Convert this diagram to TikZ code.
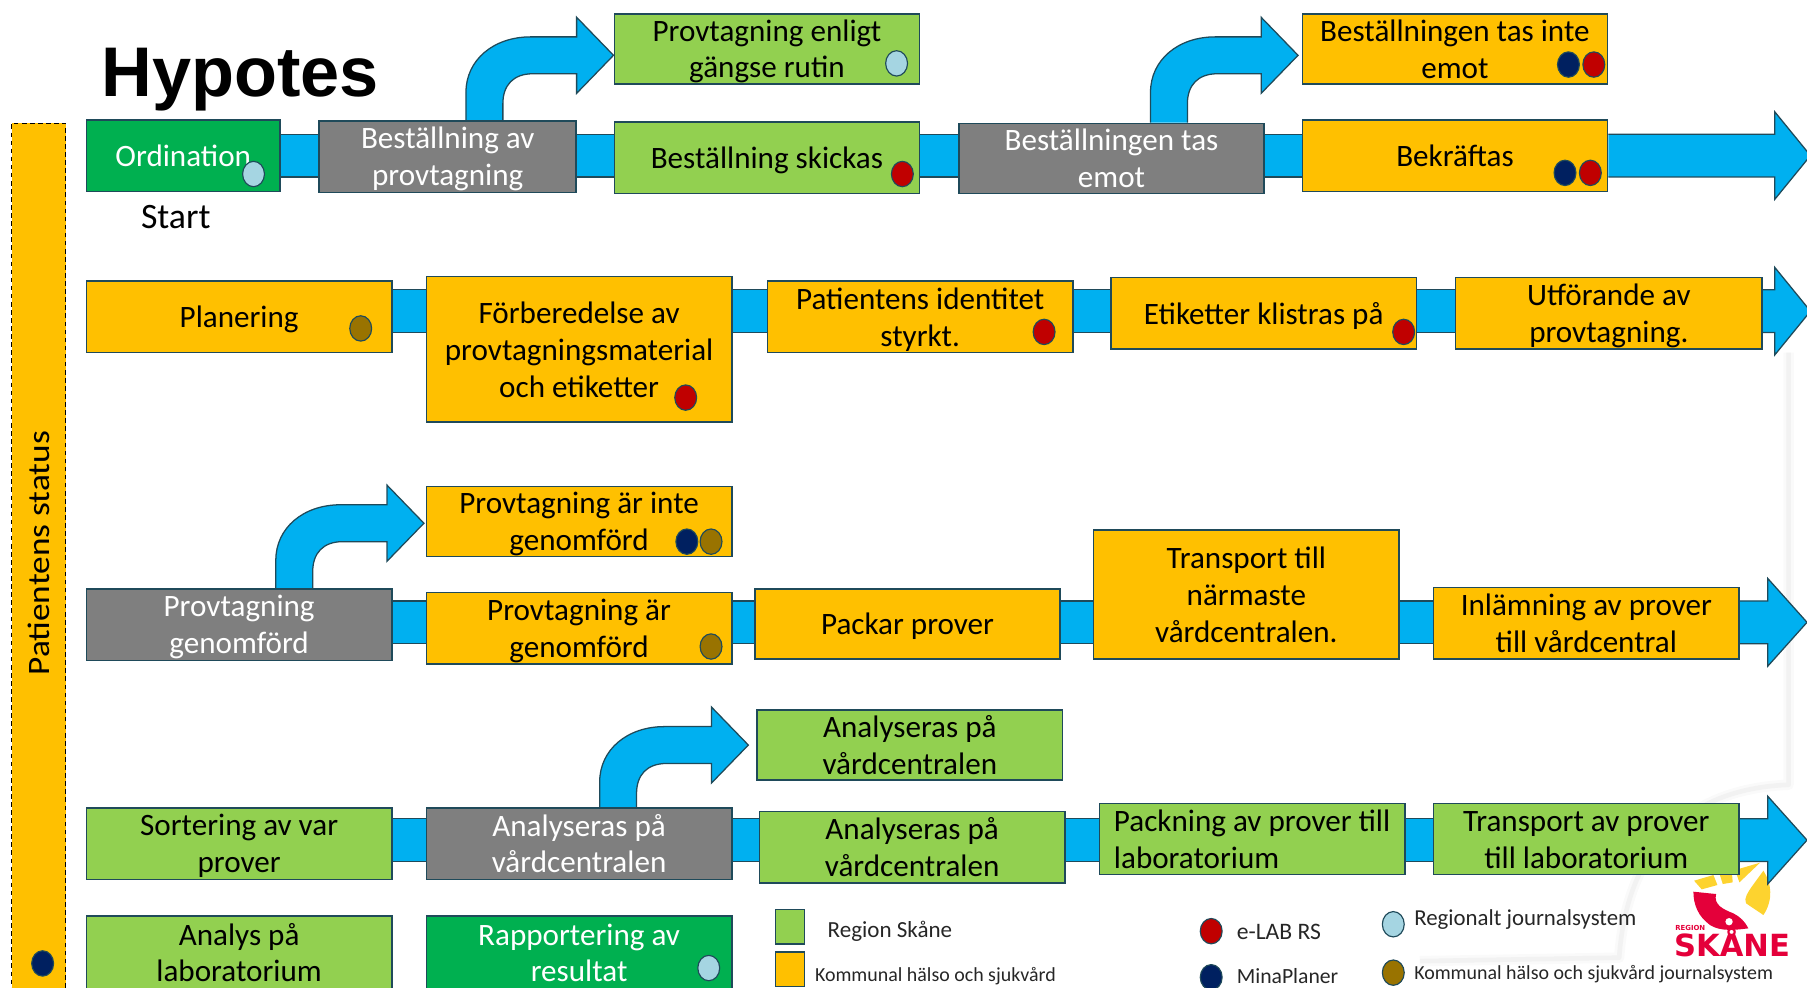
\documentclass[tikz,border=0pt]{standalone}
\usepackage{fontspec}
\setmainfont{Carlito}
\newfontfamily\logofont{DejaVu Sans}
\newfontfamily\titlefont{Liberation Sans}
\usetikzlibrary{calc,backgrounds,shapes.geometric}
\definecolor{sky}{HTML}{00B0F0}
\definecolor{orangebox}{HTML}{FFC000}
\definecolor{greenbox}{HTML}{92D050}
\definecolor{dkgreen}{HTML}{00B050}
\definecolor{graybox}{HTML}{7F7F7F}
\definecolor{edgec}{HTML}{1F4A5A}
\definecolor{redd}{HTML}{C00000}
\definecolor{navyd}{HTML}{002060}
\definecolor{olived}{HTML}{997300}
\definecolor{lightd}{HTML}{A5D5E2}
\definecolor{logored}{HTML}{E4003A}
\definecolor{logoyel}{HTML}{FDD32F}
\tikzset{
  box/.style={draw=edgec,line width=1.3pt,inner sep=0pt,align=center,
    font=\fontsize{27}{32}\selectfont},
  org/.style={box,fill=orangebox,text=black},
  grn/.style={box,fill=greenbox,text=black},
  dgr/.style={box,fill=dkgreen,text=white},
  gry/.style={box,fill=graybox,text=white},
  dotn/.style={ellipse,draw=edgec,line width=1pt,minimum width=19pt,minimum height=22pt,inner sep=0pt},
  band/.style={draw=edgec,line width=1.1pt,double=sky,double distance=36pt},
  blockline/.style={draw=edgec,line width=1.1pt,fill=sky,line join=miter},
  legtext/.style={anchor=west,inner sep=0pt,text=black!85},
  legbox/.style={draw=edgec,line width=1.3pt,inner sep=0pt},
  shadowline/.style={draw=black!5,line width=4pt,line join=round},
  shadowwide/.style={draw=black!2,line width=9pt,line join=round}
}
% name, style, x1, y1, x2, y2, text
\newcommand{\bx}[7]{%
  \pgfmathsetmacro{\bxw}{#5-#3}\pgfmathsetmacro{\bxh}{#6-#4}%
  \pgfmathsetmacro{\bxx}{(#5+#3)/2}\pgfmathsetmacro{\bxy}{(#6+#4)/2}%
  \node[#2,minimum width=\bxw pt,minimum height=\bxh pt] (#1) at (\bxx,\bxy) {\rule{0pt}{23pt}#7\rule[-4pt]{0pt}{4pt}};}
\newcommand{\dt}[4]{\node[dotn,fill=#2] (#1) at (#3,#4) {};}
% from node, to node, x offset, tip shift down, tip shift right
\newcommand{\bentarrow}[5]{%
  \draw[blockline] let \p1=([xshift=#3pt]#1.north west), \p2=([yshift=-#4pt,xshift=#5pt]#2.west) in
    (\x1,\y1) -- (\x1,\y2-32pt)
    .. controls (\x1,\y2-4pt) and (\x1+24pt,\y2+16pt) .. (\x1+56pt,\y2+16pt)
    -- (\x2-32pt,\y2+16pt) -- (\x2-32pt,\y2+33pt) -- (\x2,\y2)
    -- (\x2-32pt,\y2-33pt) -- (\x2-32pt,\y2-16pt) -- (\x1+58pt,\y2-16pt)
    .. controls (\x1+41pt,\y2-16pt) and (\x1+32pt,\y2-26pt) .. (\x1+32pt,\y2-42pt)
    -- (\x1+32pt,\y1);}
% from node, head-base coordinate, tip coordinate
\newcommand{\tailarrow}[3]{%
  \draw[blockline] ($(#1.east |- #2)+(0,-18.5)$) -- ($(#2)+(0,-18.5)$) -- ($(#2)+(0,-38)$)
    -- (#3) -- ($(#2)+(0,38)$) -- ($(#2)+(0,18.5)$) -- ($(#1.east |- #2)+(0,18.5)$);}
\newcommand{\lk}[3]{\draw[band] (#1.east |- #3) -- (#2.west |- #3);}
\begin{document}
\begin{tikzpicture}[x=1pt,y=-1pt]
\useasboundingbox (0,0) rectangle (1568,856.5);
\clip (0,0) rectangle (1568,856.5);
\node[anchor=west,inner sep=0pt,font=\titlefont\bfseries\fontsize{61}{61}\selectfont] (title) at (88,69) {Hypotes};
% left bar
\node[draw=black,dash pattern=on 4pt off 3pt,line width=1pt,fill=orangebox,minimum width=47pt,minimum height=752pt,inner sep=0pt] (bar) at (33.5,483) {};
\node[rotate=90,inner sep=0pt,font=\fontsize{27}{32}\selectfont] (status) at (34,480) {\scalebox{1.135}[1]{Patientens status}};
\dt{dbar}{navyd}{37}{836}
% row 1
\bx{ordi}{dgr}{75}{104}{243}{166}{Ordination}
\bx{best}{gry}{277}{105}{500}{167}{Beställning av\\provtagning}
\bx{enl}{grn}{533}{12}{798}{73}{Provtagning enligt\\gängse rutin}
\bx{skick}{grn}{533}{106}{798}{168}{Beställning skickas}
\bx{emot}{gry}{832}{107}{1097}{168}{Beställningen tas\\emot}
\bx{inte}{org}{1130}{12}{1395}{73}{Beställningen tas inte\\emot}
\bx{bekr}{org}{1130}{104}{1395}{166}{Bekräftas}
\node[inner sep=0pt,font=\fontsize{31}{32}\selectfont] (start) at (152.5,188) {Start};
% row 2
\bx{plan}{org}{75}{244}{340}{306}{Planering}
\bx{forb}{org}{370}{240}{635}{366}{Förberedelse av\\provtagningsmaterial\\och etiketter}
\bx{ident}{org}{666}{244}{931}{306}{Patientens identitet\\styrkt.}
\bx{etik}{org}{964}{241}{1229}{303}{Etiketter klistras på}
\bx{utfor}{org}{1263}{241}{1529}{303}{Utförande av\\provtagning.}
% row 3
\bx{ejgen}{org}{370}{422}{635}{483}{Provtagning är inte\\genomförd}
\bx{pgen}{gry}{75}{511}{340}{573}{Provtagning\\genomförd}
\bx{argen}{org}{370}{514}{635}{576}{Provtagning är\\genomförd}
\bx{pack}{org}{655}{511}{920}{572}{Packar prover}
\bx{transp}{org}{949}{460}{1214}{572}{Transport till\\närmaste\\vårdcentralen.}
\bx{inl}{org}{1244}{510}{1509}{572}{Inlämning av prover\\till vårdcentral}
% row 4
\bx{anatop}{grn}{657}{616}{922}{677}{Analyseras på\\vårdcentralen}
\bx{sort}{grn}{75}{701}{340}{763}{Sortering av var\\prover}
\bx{anagry}{gry}{370}{701}{635}{763}{Analyseras på\\vårdcentralen}
\bx{anagrn}{grn}{659}{704}{924}{766}{Analyseras på\\vårdcentralen}
\bx{packlab}{grn,align=left}{954}{697}{1219}{759}{Packning av prover till\\laboratorium}
\bx{translab}{grn}{1244}{697}{1509}{759}{Transport av prover\\till laboratorium}
% row 5
\bx{analys}{grn}{75}{795}{340}{858}{Analys på\\laboratorium}
\bx{rapp}{dgr}{370}{795}{635}{858}{Rapportering av\\resultat}
% dots
\dt{d1}{lightd}{220}{151}
\dt{d2}{lightd}{778}{55}
\dt{d3}{redd}{783}{151}
\dt{d4}{navyd}{1361}{56}
\dt{d5}{redd}{1383}{56}
\dt{d6}{navyd}{1358}{150}
\dt{d7}{redd}{1380}{150}
\dt{d8}{olived}{313}{285}
\dt{d9}{redd}{595}{345}
\dt{d10}{redd}{906}{288}
\dt{d11}{redd}{1218}{288}
\dt{d12}{navyd}{596}{470}
\dt{d13}{olived}{617}{470}
\dt{d14}{olived}{617}{561}
\dt{d15}{lightd}{615}{840}
% legend
\node[legbox,fill=greenbox,minimum width=25pt,minimum height=30pt] (lg1) at (685.5,804) {};
\node[legbox,fill=orangebox,minimum width=25pt,minimum height=30pt] (lg2) at (685.5,841) {};
\node[legtext,font=\fontsize{20}{24}\selectfont] (lt1) at (718,808) {Region Skåne};
\node[legtext,font=\fontsize{17.3}{22}\selectfont] (lt2) at (707,847) {Kommunal hälso och sjukvård};
\dt{ld1}{redd}{1051}{808}
\dt{ld2}{navyd}{1051}{848}
\dt{ld3}{lightd}{1209}{802}
\dt{ld4}{olived}{1209}{844}
\node[legtext,font=\fontsize{20.5}{24}\selectfont] (lt3) at (1073,809) {e-LAB RS};
\node[legtext,font=\fontsize{18.8}{24}\selectfont] (lt4) at (1073,847) {MinaPlaner};
\node[legtext,font=\fontsize{19.8}{24}\selectfont] (lt5) at (1227,798) {Regionalt journalsystem};
\node[legtext,font=\fontsize{17.3}{22}\selectfont] (lt6) at (1227,845) {Kommunal hälso och sjukvård journalsystem};
% logo text
\node[inner sep=0pt,font=\logofont\bfseries\fontsize{6}{6}\selectfont,text=logored,anchor=west] (lgr) at (1453.5,805) {REGION};
\node[inner sep=0pt,font=\logofont\bfseries\fontsize{26.5}{26.5}\selectfont,text=logored,anchor=base west] (lgs) at (1452.5,830) {SKÅNE};
\coordinate (r1) at (0,135); \coordinate (h1) at (1540,135); \coordinate (t1) at (1571,135);
\coordinate (r2) at (0,270); \coordinate (h2) at (1540,270); \coordinate (t2) at (1571,270);
\coordinate (r3) at (0,540); \coordinate (h3) at (1534,540); \coordinate (t3) at (1568,540);
\coordinate (r4) at (0,729); \coordinate (h4) at (1534,729); \coordinate (t4) at (1568,729);
\begin{pgfonlayer}{background}
  % faint shadow edge
  \draw[shadowwide] (1552,306) -- (1552,681) .. controls (1470,684) and (1412,730) .. (1405,831) -- (1232,834);
  \draw[shadowline] (1552,306) -- (1552,681) .. controls (1470,684) and (1412,730) .. (1405,831) -- (1232,834);
  % logo emblem
  \begin{scope}[shift={(1440.5,737.6)},x=0.2892pt,y=-0.2892pt]
    \fill[logoyel] (102,92) -- (160,75) -- (172,105) -- (125,118) -- cycle;
    \fill[logoyel] (178,70) -- (215,62) -- (218,97) -- (188,102) -- cycle;
    \fill[logoyel] (225,60) -- (300,38) -- (238,97) -- cycle;
    \fill[logoyel] (310,62) .. controls (335,100) and (340,150) .. (310,195) -- (258,160) .. controls (250,145) and (265,125) .. (275,110) -- cycle;
    \fill[logored] (100,125) -- (168,132) .. controls (160,165) and (190,178) .. (220,190) .. controls (240,200) and (255,215) .. (265,235)
      .. controls (225,240) and (180,245) .. (150,225) .. controls (115,200) and (100,165) .. (100,125) -- cycle;
    \fill[white] (207,215) circle[x radius=11,y radius=11];
  \end{scope}
  % connectors
  \lk{ordi}{best}{r1}\lk{best}{skick}{r1}\lk{skick}{emot}{r1}\lk{emot}{bekr}{r1}
  \tailarrow{bekr}{h1}{t1}
  \lk{plan}{forb}{r2}\lk{forb}{ident}{r2}\lk{ident}{etik}{r2}\lk{etik}{utfor}{r2}
  \tailarrow{utfor}{h2}{t2}
  \lk{pgen}{argen}{r3}\lk{argen}{pack}{r3}\lk{pack}{transp}{r3}\lk{transp}{inl}{r3}
  \tailarrow{inl}{h3}{t3}
  \lk{sort}{anagry}{r4}\lk{anagry}{anagrn}{r4}\lk{anagrn}{packlab}{r4}\lk{packlab}{translab}{r4}
  \tailarrow{translab}{h4}{t4}
  \bentarrow{best}{enl}{128}{5.5}{0}
  \bentarrow{emot}{inte}{167}{5.5}{-3}
  \bentarrow{pgen}{ejgen}{165}{1.5}{-1.5}
  \bentarrow{anagry}{anatop}{151}{0}{-7}
\end{pgfonlayer}
\end{tikzpicture}
\end{document}
